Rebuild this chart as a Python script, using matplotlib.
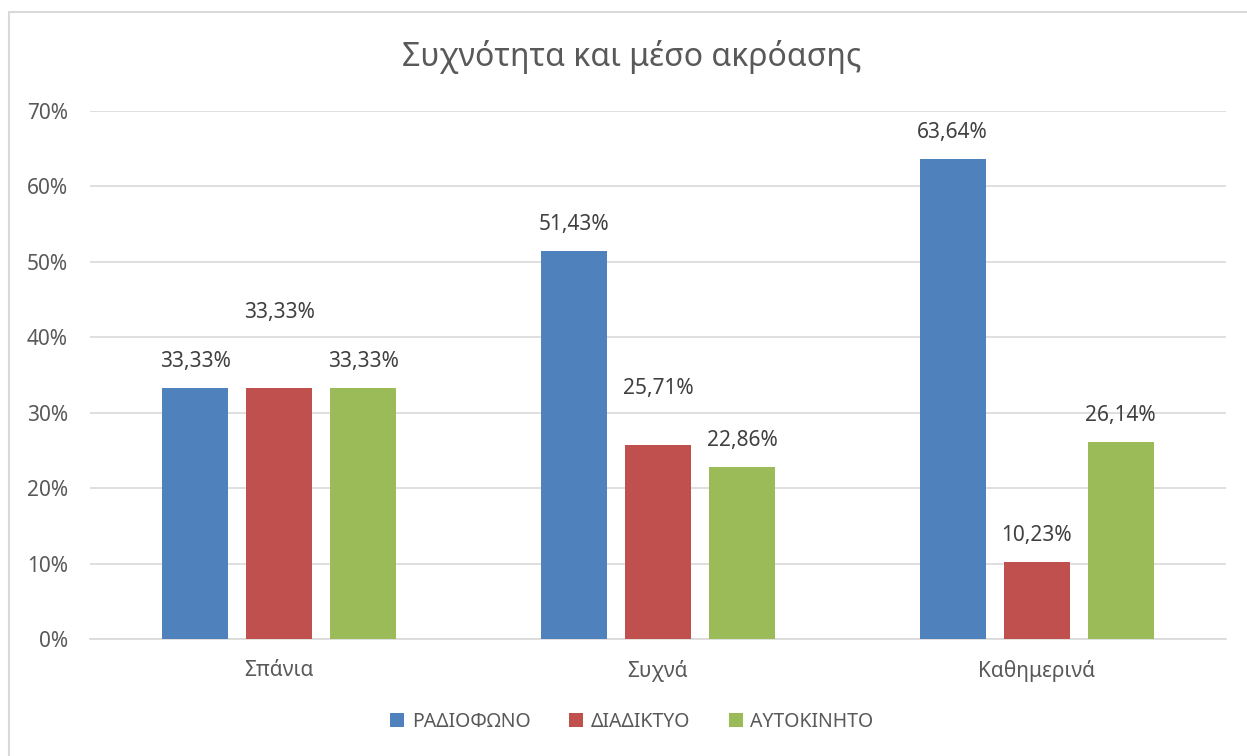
import matplotlib
matplotlib.use('Agg')
import matplotlib.pyplot as plt
import matplotlib.patches as mpatches
import numpy as np
from matplotlib.ticker import FuncFormatter

plt.rcParams['font.family'] = ['Noto Sans', 'DejaVu Sans']

categories = ['Σπάνια', 'Συχνά', 'Καθημερινά']
series_names = ['ΡΑΔΙΟΦΩΝΟ', 'ΔΙΑΔΙΚΤΥΟ', 'ΑΥΤΟΚΙΝΗΤΟ']
radio = [33.33, 51.43, 63.64]
internet = [33.33, 25.71, 10.23]
car = [33.33, 22.86, 26.14]
yticks = [0, 10, 20, 30, 40, 50, 60, 70]

colours = ['#4F81BD', '#C0504D', '#9BBB59']
# label offsets (points above bar top), the red ones were dragged up in the original
label_offsets = [[19, 19, 19], [54, 41, 19], [19, 19, 19]]

fig = plt.figure(figsize=(12.47, 7.56), dpi=100)
ax = fig.add_axes([90 / 1247, 1 - 639 / 756, (1226 - 90) / 1247, (639 - 111) / 756])

# chart frame
fig.patches.append(mpatches.Rectangle((8.5 / 1247, -0.1), 1.2, 1 - 11.5 / 756 + 0.1,
                                      transform=fig.transFigure, fill=False,
                                      edgecolor='#D9D9D9', linewidth=1.5))

x = np.arange(len(categories))
width = 0.174
step = 0.222
for i, (vals, name) in enumerate(zip([radio, internet, car], series_names)):
    bars = ax.bar(x + (i - 1) * step, [v / 100 for v in vals], width,
                  color=colours[i], label=name, zorder=3)
    for j, (b, v) in enumerate(zip(bars, vals)):
        ax.annotate(('%.2f%%' % v).replace('.', ','),
                    (b.get_x() + b.get_width() / 2, b.get_height()),
                    xytext=(0, label_offsets[i][j]), textcoords='offset points',
                    ha='center', va='center', fontsize=15, color='#404040')

ax.set_xlim(-0.5, 2.5)
ax.set_ylim(0, 0.7)
ax.set_yticks([t / 100 for t in yticks])
ax.yaxis.set_major_formatter(FuncFormatter(lambda v, p: '%d%%' % round(v * 100)))
ax.set_xticks(x)
ax.set_xticklabels(categories)
ax.grid(axis='y', color='#D9D9D9', linewidth=1.2, zorder=0)
for s in ['top', 'right', 'left']:
    ax.spines[s].set_visible(False)
ax.spines['bottom'].set_color('#D9D9D9')
ax.spines['bottom'].set_linewidth(1.2)
ax.tick_params(axis='both', length=0, labelsize=15, labelcolor='#595959')
ax.tick_params(axis='y', pad=16)
ax.tick_params(axis='x', pad=15)

fig.text(632 / 1247, 1 - 57 / 756, 'Συχνότητα και μέσο ακρόασης', ha='center', va='center',
         fontsize=23, color='#595959')

fig.legend(loc='center', bbox_to_anchor=(632 / 1247, 1 - 722 / 756), ncol=3, frameon=False,
           fontsize=14, labelcolor='#595959', handlelength=0.7, handleheight=0.7,
           handletextpad=0.4, columnspacing=2.0)

fig.savefig('out.png', dpi=100)
